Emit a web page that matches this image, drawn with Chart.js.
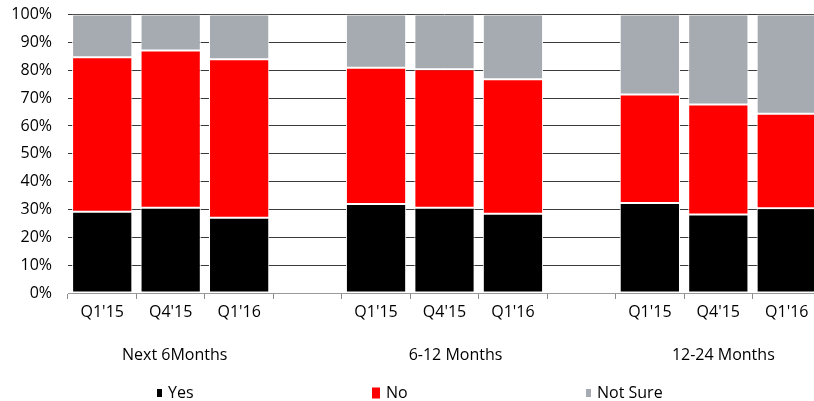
<!DOCTYPE html>
<html>
<head>
<meta charset="utf-8">
<script src="https://cdn.jsdelivr.net/npm/chart.js@4"></script>
<style>
  html, body { margin: 0; padding: 0; overflow: hidden; background: #fff; }
  #wrap { position: relative; width: 821px; height: 412px; margin-top: -11px; }
</style>
</head>
<body>
<div id="wrap"><canvas id="surveyChart"></canvas></div>
<script>
// categorie: tre gruppi di trimestri, con una colonna vuota tra i gruppi
const quarters = ["Q1'15", "Q4'15", "Q1'16", "", "Q1'15", "Q4'15", "Q1'16", "", "Q1'15", "Q4'15", "Q1'16"];
const groupNames = ["Next 6Months", "6-12 Months", "12-24 Months"];
const groupMiddle = [1, 5, 9]; // indice della colonna centrale di ogni gruppo

// valori in percentuale
const yesValues     = [29.2, 30.6, 27.0, null, 32.0, 30.6, 28.5, null, 32.3, 28.2, 30.4];
const noValues      = [55.5, 56.5, 57.0, null, 48.9, 49.8, 48.3, null, 39.0, 39.5, 34.0];
const notSureValues = [15.3, 12.9, 16.0, null, 19.1, 19.6, 23.2, null, 28.7, 32.3, 35.6];

const seriesNames = ['Yes', 'No', 'Not Sure'];
const seriesColors = ['#000000', '#ff0000', '#a5abb0'];

const FONT = '"Open Sans", sans-serif';

// etichette dei gruppi + legenda in basso, disegnate a mano
const bottomText = {
    id: 'bottomText',
    afterDraw(chart, args, opts) {
        const ctx = chart.ctx;
        const x = chart.scales.x;
        const base = chart.chartArea.bottom;
        ctx.save();
        ctx.fillStyle = '#000';
        ctx.font = '16px ' + FONT;
        ctx.textAlign = 'center';
        ctx.textBaseline = 'middle';
        groupNames.forEach((name, i) => {
            ctx.fillText(name, x.getPixelForValue(groupMiddle[i]) + opts.groupShift[i], base + opts.groupDy);
        });

        // legenda
        ctx.textAlign = 'left';
        chart.data.datasets.forEach((ds, i) => {
            const lx = opts.legendX[i];
            const s = opts.markerSize[i];
            const ly = base + opts.legendDy;
            ctx.fillStyle = ds.backgroundColor;
            ctx.fillRect(lx, ly - s[1] / 2, s[0], s[1]);
            ctx.fillStyle = '#000';
            ctx.fillText(ds.label, lx + s[0] + 6, ly);
        });
        ctx.restore();
    }
};

const datasets = [yesValues, noValues, notSureValues].map((vals, i) => ({
    label: seriesNames[i],
    data: vals,
    backgroundColor: seriesColors[i],
    borderColor: '#ffffff',
    borderWidth: 1,
    borderSkipped: false,
    categoryPercentage: 1.0,
    barPercentage: 0.88
}));

const ctx = document.getElementById('surveyChart').getContext('2d');
new Chart(ctx, {
    type: 'bar',
    data: { labels: quarters, datasets: datasets },
    plugins: [bottomText],
    options: {
        responsive: true,
        maintainAspectRatio: false,
        animation: false,
        layout: { padding: { top: 6, right: 0, left: 0, bottom: 0 } },
        scales: {
            x: {
                stacked: true,
                afterFit: (s) => { s.height = 108; },
                grid: { offset: true, drawOnChartArea: false, tickLength: 6, color: '#8c8c8c' },
                border: { color: '#9a9a9a', width: 1 },
                ticks: { color: '#000', font: { family: FONT, size: 16 }, padding: 4, maxRotation: 0, autoSkip: false }
            },
            y: {
                stacked: true,
                min: 0,
                max: 100,
                afterFit: (s) => { s.width = 68; },
                grid: { color: '#3a3a3a', drawTicks: false },
                border: { display: false },
                ticks: {
                    stepSize: 10,
                    padding: 16,
                    color: '#000',
                    font: { family: FONT, size: 16 },
                    callback: (v) => v + '%'
                }
            }
        },
        plugins: {
            legend: { display: false },
            tooltip: { enabled: false },
            bottomText: {
                groupDy: 62,
                groupShift: [4, 11, 5],
                legendDy: 100,
                legendX: [157, 372, 586],
                markerSize: [[5, 8], [8, 11], [5, 8]]
            }
        }
    }
});
</script>
</body>
</html>
